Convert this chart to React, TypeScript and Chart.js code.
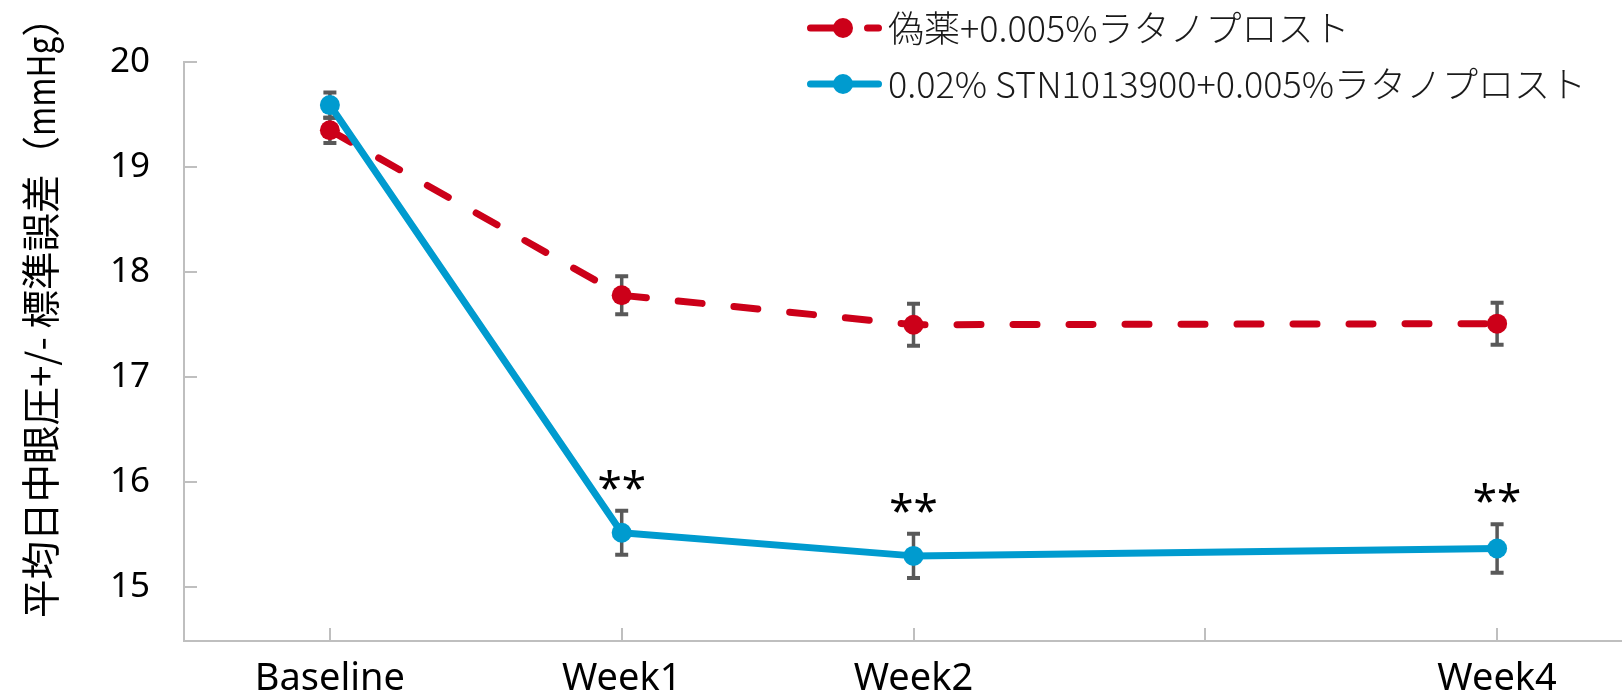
import React, { useEffect, useRef } from 'react';
import { Chart, registerables } from 'chart.js';

Chart.register(...registerables);

const categories = ['Baseline', 'Week1', 'Week2', '', 'Week4'];
const placeboValues = [19.35, 17.78, 17.5, null, 17.51];
const placeboErrors = [0.12, 0.18, 0.2, null, 0.2];
const stnValues = [19.59, 15.52, 15.3, null, 15.37];
const stnErrors = [0.12, 0.21, 0.21, null, 0.23];
const stnSignificance = ['', '**', '**', '', '**'];
const yTickValues = [15, 16, 17, 18, 19, 20];
const seriesNames = ['偽薬+0.005%ラタノプロスト', '0.02% STN1013900+0.005%ラタノプロスト'];
const yTitleParts = ['平均日中眼圧+/- 標準誤差（', 'mmHg', '）'];

const RED = '#CC0019';
const BLUE = '#009BCF';
const AXIS = '#BFBFBF';
const ERR = '#595959';
const errorSets = [placeboErrors, stnErrors];

const errorBarPlugin = {
  id: 'errorBars',
  beforeDatasetsDraw(chart: any) {
    const ctx = chart.ctx;
    const y = chart.scales.y;
    chart.data.datasets.forEach((ds: any, i: number) => {
      const errs = errorSets[i];
      const meta = chart.getDatasetMeta(i);
      meta.data.forEach((pt: any, j: number) => {
        const v = ds.data[j];
        const e = errs[j];
        if (v == null || e == null) return;
        const x = pt.x;
        const top = y.getPixelForValue(v + e);
        const bot = y.getPixelForValue(v - e);
        ctx.save();
        ctx.strokeStyle = ERR;
        ctx.lineCap = 'butt';
        ctx.lineWidth = 3.5;
        ctx.beginPath();
        ctx.moveTo(x, top);
        ctx.lineTo(x, bot);
        ctx.stroke();
        ctx.lineWidth = 4;
        ctx.beginPath();
        ctx.moveTo(x - 6.5, top);
        ctx.lineTo(x + 6.5, top);
        ctx.moveTo(x - 6.5, bot);
        ctx.lineTo(x + 6.5, bot);
        ctx.stroke();
        ctx.restore();
      });
    });
  },
  afterDatasetsDraw(chart: any) {
    const ctx = chart.ctx;
    const y = chart.scales.y;
    const meta = chart.getDatasetMeta(1);
    ctx.save();
    ctx.fillStyle = '#000';
    ctx.font = '44px "Noto Sans", sans-serif';
    ctx.textAlign = 'center';
    ctx.textBaseline = 'alphabetic';
    stnSignificance.forEach((s, j) => {
      const v = stnValues[j];
      const e = stnErrors[j];
      if (!s || v == null || e == null) return;
      const x = meta.data[j].x;
      const top = y.getPixelForValue(v + e);
      ctx.fillText(s, x, top - 8);
    });
    ctx.restore();
  },
  afterDraw(chart: any) {
    const ctx = chart.ctx;
    // y-axis title
    ctx.save();
    ctx.translate(40, 618);
    ctx.rotate(-Math.PI / 2);
    ctx.fillStyle = '#000';
    ctx.font = '38.5px "Noto Sans CJK JP", sans-serif';
    ctx.textAlign = 'left';
    ctx.textBaseline = 'middle';
    const w1 = ctx.measureText(yTitleParts[0]).width;
    ctx.fillText(yTitleParts[0], 0, 0);
    const sx = 0.82;
    const w2 = ctx.measureText(yTitleParts[1]).width * sx;
    ctx.save();
    ctx.translate(w1, 0);
    ctx.scale(sx, 1);
    ctx.fillText(yTitleParts[1], 0, 0);
    ctx.restore();
    ctx.fillText(yTitleParts[2], w1 + w2, 0);
    ctx.restore();

    // legend
    const rows = [
      { color: RED, dashed: true, y: 28, text: seriesNames[0] },
      { color: BLUE, dashed: false, y: 84, text: seriesNames[1] },
    ];
    rows.forEach((r) => {
      ctx.save();
      ctx.strokeStyle = r.color;
      ctx.fillStyle = r.color;
      ctx.lineWidth = 7;
      ctx.lineCap = 'round';
      ctx.beginPath();
      if (r.dashed) {
        ctx.moveTo(810.5, r.y);
        ctx.lineTo(838, r.y);
        ctx.moveTo(867.5, r.y);
        ctx.lineTo(878.5, r.y);
      } else {
        ctx.moveTo(810.5, r.y);
        ctx.lineTo(878.5, r.y);
      }
      ctx.stroke();
      ctx.beginPath();
      ctx.arc(843, r.y, 10, 0, Math.PI * 2);
      ctx.fill();
      ctx.fillStyle = '#1a1a1a';
      ctx.font =
        '300 36px "Noto Sans CJK JP Light", "Noto Sans CJK JP DemiLight", "Noto Sans CJK JP", sans-serif';
      ctx.textAlign = 'left';
      ctx.textBaseline = 'middle';
      ctx.fillText(r.text, 888, r.y);
      ctx.restore();
    });
  },
};

export default function App() {
  const ref = useRef<HTMLCanvasElement>(null);

  useEffect(() => {
    if (!ref.current) return;
    Chart.defaults.font.family = '"Noto Sans", sans-serif';
    const chart = new Chart(ref.current, {
      type: 'line',
      data: {
        labels: categories,
        datasets: [
          {
            label: seriesNames[0],
            data: placeboValues,
            borderColor: RED,
            backgroundColor: RED,
            borderWidth: 7,
            borderDash: [24, 32],
            borderCapStyle: 'round',
            borderJoinStyle: 'round',
            pointRadius: 10,
            pointBackgroundColor: RED,
            pointBorderWidth: 0,
            spanGaps: true,
            tension: 0,
            order: 2,
          },
          {
            label: seriesNames[1],
            data: stnValues,
            borderColor: BLUE,
            backgroundColor: BLUE,
            borderWidth: 7,
            borderCapStyle: 'round',
            borderJoinStyle: 'round',
            pointRadius: 10,
            pointBackgroundColor: BLUE,
            pointBorderWidth: 0,
            spanGaps: true,
            tension: 0,
            order: 1,
          },
        ],
      } as any,
      options: {
        responsive: false,
        animation: false,
        devicePixelRatio: 1,
        layout: { autoPadding: false, padding: { left: 0, top: 62, right: 57, bottom: 0 } },
        plugins: {
          legend: { display: false },
          tooltip: { enabled: false },
        },
        scales: {
          x: {
            type: 'category',
            offset: true,
            grid: {
              offset: false,
              drawOnChartArea: false,
              drawTicks: true,
              tickLength: -13,
              color: AXIS,
              lineWidth: 2,
            },
            border: { color: AXIS, width: 2 },
            ticks: {
              color: '#000',
              font: { family: '"Noto Sans", sans-serif', size: 38 },
              padding: 28,
              autoSkip: false,
              maxRotation: 0,
            },
            afterFit: (s: any) => {
              s.height = 54;
              s.paddingLeft = 0;
              s.paddingRight = 0;
              s.paddingTop = 0;
              s.paddingBottom = 0;
            },
          },
          y: {
            min: 14.49,
            max: 20,
            afterBuildTicks: (s: any) => {
              s.ticks = yTickValues.map((v) => ({ value: v }));
            },
            grid: {
              drawOnChartArea: false,
              drawTicks: true,
              tickLength: -13,
              color: AXIS,
              lineWidth: 2,
            },
            border: { color: AXIS, width: 2 },
            ticks: {
              color: '#000',
              font: { family: '"Noto Sans", sans-serif', size: 35 },
              padding: 47,
            },
            afterFit: (s: any) => {
              s.width = 184;
              s.paddingLeft = 0;
              s.paddingRight = 0;
              s.paddingTop = 0;
              s.paddingBottom = 0;
            },
          },
        },
      } as any,
      plugins: [errorBarPlugin],
    });
    return () => chart.destroy();
  }, []);

  return (
    <div
      style={{
        position: 'fixed',
        left: 0,
        top: 0,
        width: 1622,
        height: 695,
        overflow: 'hidden',
        background: '#fff',
      }}
    >
      <canvas ref={ref} width={1700} height={695} style={{ display: 'block' }} />
    </div>
  );
}
